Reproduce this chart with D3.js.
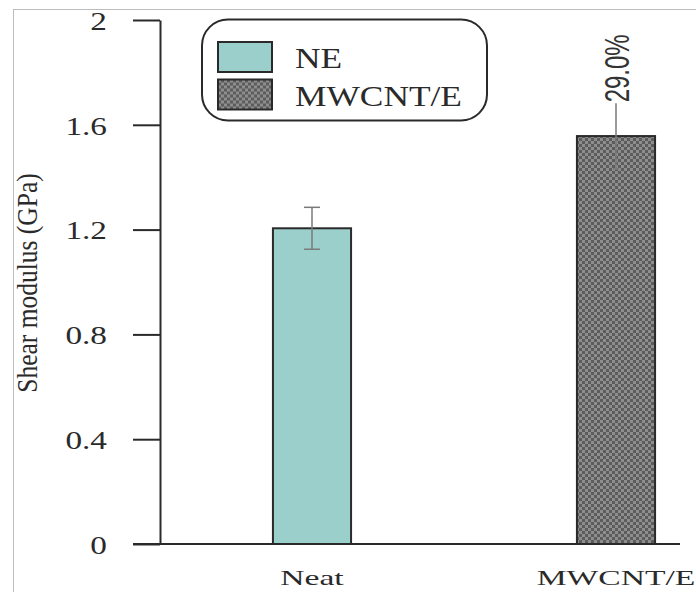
<!DOCTYPE html>
<html>
<head>
<meta charset="utf-8">
<script src="https://cdn.jsdelivr.net/npm/d3@7"></script>
<style>
html,body{margin:0;padding:0;background:#fff;}
svg{display:block;}
</style>
</head>
<body>
<script>
// ---- data ----
const categories = ["Neat", "MWCNT/E"];
const values = [1.205, 1.557];
const errors = [0.08, 0.125];
const annotations = ["", "29.0%"];
const legendLabels = ["NE", "MWCNT/E"];
const yTicks = [0, 0.4, 0.8, 1.2, 1.6, 2];
const yTickLabels = ["0", "0.4", "0.8", "1.2", "1.6", "2"];
const yTitle = "Shear modulus (GPa)";

const W = 696, H = 592;
const svg = d3.select("body").append("svg").attr("width", W).attr("height", H);
const serif = "'Liberation Serif','Times New Roman',serif";
const sans = "'Liberation Sans',Arial,sans-serif";
const ink = "#2a2a2a";

// pattern for MWCNT
const defs = svg.append("defs");
const pat = defs.append("pattern").attr("id", "chk").attr("patternUnits", "userSpaceOnUse")
  .attr("width", 6).attr("height", 6);
pat.append("rect").attr("width", 6).attr("height", 6).attr("fill", "#5c5c5c");
pat.append("rect").attr("x", 0).attr("y", 0).attr("width", 3).attr("height", 3).attr("fill", "#8e8e8e");
pat.append("rect").attr("x", 3).attr("y", 3).attr("width", 3).attr("height", 3).attr("fill", "#8e8e8e");
const fills = ["#9bcfcc", "url(#chk)"];

// frame lines
svg.append("line").attr("x1", 13.5).attr("x2", 13.5).attr("y1", 9).attr("y2", H).attr("stroke", "#bdbdbd").attr("stroke-width", 1);
svg.append("line").attr("x1", 13).attr("x2", W).attr("y1", 9.5).attr("y2", 9.5).attr("stroke", "#bdbdbd").attr("stroke-width", 1);

// scales
const y = d3.scaleLinear().domain([0, 2]).range([544, 20]);
const x = d3.scaleBand().domain(categories).range([160, 768]).paddingInner(0.743).paddingOuter(0.3715);

// x-axis baseline
svg.append("line").attr("x1", 133).attr("x2", 680).attr("y1", y(0)).attr("y2", y(0))
  .attr("stroke", ink).attr("stroke-width", 2);

// y axis
const yAxis = svg.append("g").attr("transform", "translate(160,0)")
  .call(d3.axisLeft(y).tickValues(yTicks).tickFormat((d, i) => yTickLabels[i])
    .tickSize(27).tickSizeOuter(0).tickPadding(26));
yAxis.select(".domain").attr("stroke", ink).attr("stroke-width", 2);
yAxis.selectAll(".tick line").attr("stroke", ink).attr("stroke-width", 2);
yAxis.selectAll(".tick text").attr("font-family", serif).attr("font-size", 26).attr("fill", ink)
  .attr("x", 0).attr("dy", "0.36em")
  .attr("transform", "translate(-53,0) scale(1.28,1)");

// y title
svg.append("text").attr("transform", `translate(37,${283}) scale(1.18,1) rotate(-90)`)
  .attr("text-anchor", "middle").attr("font-family", serif).attr("font-size", 25.5)
  .attr("fill", ink).text(yTitle);

// bars
const data = categories.map((c, i) => ({c, v: values[i], e: errors[i], a: annotations[i], f: fills[i]}));
svg.selectAll(".bar").data(data).join("rect").attr("class", "bar")
  .attr("x", d => x(d.c)).attr("width", x.bandwidth())
  .attr("y", d => y(d.v)).attr("height", d => y(0) - y(d.v))
  .attr("fill", d => d.f).attr("stroke", ink).attr("stroke-width", 2);

// error bars
const eb = svg.selectAll(".eb").data(data).join("g").attr("class", "eb")
  .attr("transform", d => `translate(${x(d.c) + x.bandwidth() / 2},0)`);
eb.append("line").attr("y1", d => y(d.v + d.e)).attr("y2", d => y(d.v - d.e))
  .attr("stroke", "#7a7a7a").attr("stroke-width", 1.5);
eb.filter(d => !d.a).append("line").attr("x1", -8).attr("x2", 8).attr("y1", d => y(d.v + d.e)).attr("y2", d => y(d.v + d.e))
  .attr("stroke", "#7a7a7a").attr("stroke-width", 1.5);
eb.append("line").attr("x1", d => d.a ? -3 : -8).attr("x2", d => d.a ? 3 : 8)
  .attr("y1", d => y(d.v - d.e)).attr("y2", d => y(d.v - d.e))
  .attr("stroke", "#7a7a7a").attr("stroke-width", 1.5);

// annotation
eb.filter(d => d.a).append("text")
  .attr("transform", d => `translate(13,${y(d.v + d.e) - 1}) scale(1.45,1) rotate(-90)`)
  .attr("font-family", sans).attr("font-size", 24).attr("fill", "#333")
  .text(d => d.a);

// x labels
svg.selectAll(".xl").data(categories).join("text").attr("class", "xl")
  .attr("transform", d => `translate(${x(d) + x.bandwidth() / 2},585) scale(1.6,1)`)
  .attr("text-anchor", "middle").attr("font-family", serif).attr("font-size", 21)
  .attr("fill", ink).text(d => d);

// legend
const lg = svg.append("g");
lg.append("rect").attr("x", 202).attr("y", 19.5).attr("width", 285).attr("height", 101)
  .attr("rx", 26).attr("ry", 26).attr("fill", "#fff").attr("stroke", ink).attr("stroke-width", 2);
const li = lg.selectAll(".li").data(legendLabels).join("g").attr("class", "li")
  .attr("transform", (d, i) => `translate(218,${42 + i * 37.5})`);
li.append("rect").attr("width", 54).attr("height", 30).attr("fill", (d, i) => fills[i])
  .attr("stroke", ink).attr("stroke-width", 2);
li.append("text").attr("transform", "translate(77,26) scale(1.22,1)").attr("font-family", serif)
  .attr("font-size", 29).attr("fill", ink).text(d => d);
</script>
</body>
</html>
